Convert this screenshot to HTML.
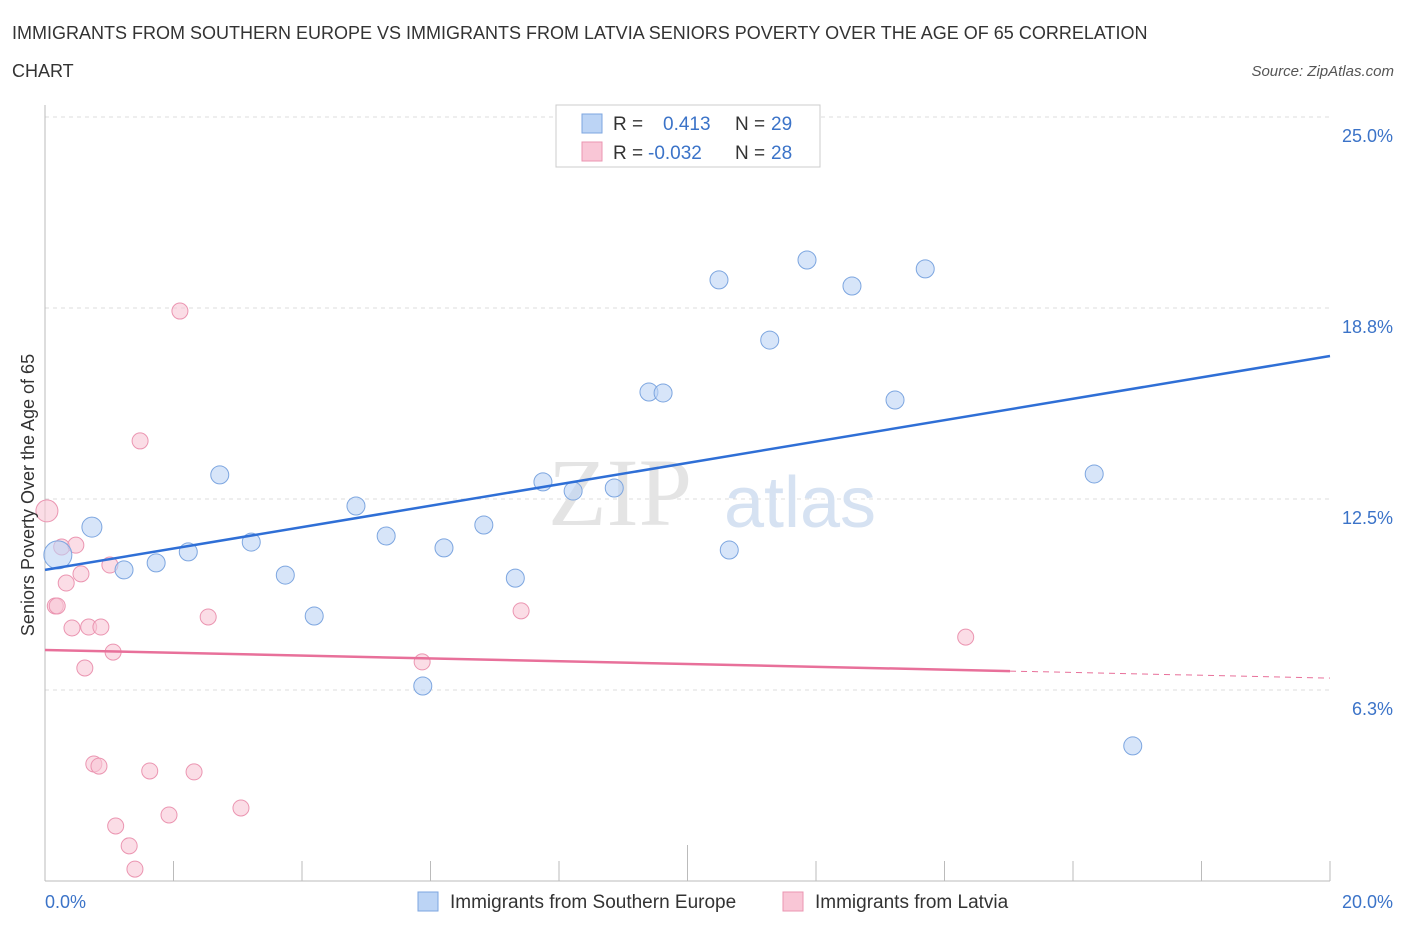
<!DOCTYPE html>
<html><head><meta charset="utf-8"><style>
body{margin:0;background:#fff;font-family:"Liberation Sans",sans-serif}
</style></head><body>
<svg width="1406" height="930" xmlns="http://www.w3.org/2000/svg" font-family="Liberation Sans, sans-serif">
<text x="12" y="39" font-size="18" fill="#333">IMMIGRANTS FROM SOUTHERN EUROPE VS IMMIGRANTS FROM LATVIA SENIORS POVERTY OVER THE AGE OF 65 CORRELATION</text>
<text x="12" y="77" font-size="18" fill="#333">CHART</text>
<text x="1394" y="76" font-size="15" fill="#555" font-style="italic" text-anchor="end">Source: ZipAtlas.com</text>
<g id="grid"></g>
<g id="ticks"></g>
<text x="620" y="525" font-size="96" fill="#e4e4e4" font-family="Liberation Serif, serif" text-anchor="middle">ZIP</text>
<text x="800" y="527" font-size="72" fill="#d6e2f2" text-anchor="middle">atlas</text>
<g id="marks"></g>
<text transform="translate(34,495) rotate(-90)" font-size="18" fill="#333" text-anchor="middle">Seniors Poverty Over the Age of 65</text>
<text x="45" y="908" font-size="18" fill="#3b73c8">0.0%</text>
<text x="1393" y="908" font-size="18" fill="#3b73c8" text-anchor="end">20.0%</text>
<g>
<rect x="556" y="105" width="264" height="62" fill="#fff" stroke="#ccc"/>
<rect x="582" y="114" width="20" height="19" fill="#bcd4f5" stroke="#7da6e0"/>
<rect x="582" y="142" width="20" height="19" fill="#f9c6d6" stroke="#eb95b1"/>
<text x="613" y="130" font-size="19" fill="#333">R =</text>
<text x="663" y="130" font-size="19" fill="#3b73c8">0.413</text>
<text x="735" y="130" font-size="19" fill="#333">N =</text>
<text x="771" y="130" font-size="19" fill="#3b73c8">29</text>
<text x="613" y="159" font-size="19" fill="#333">R =</text>
<text x="648" y="159" font-size="19" fill="#3b73c8">-0.032</text>
<text x="735" y="159" font-size="19" fill="#333">N =</text>
<text x="771" y="159" font-size="19" fill="#3b73c8">28</text>
</g>
<g>
<rect x="418" y="892" width="20" height="19" fill="#bcd4f5" stroke="#7da6e0"/>
<text x="450" y="908" font-size="19" fill="#333">Immigrants from Southern Europe</text>
<rect x="783" y="892" width="20" height="19" fill="#f9c6d6" stroke="#eb95b1"/>
<text x="815" y="908" font-size="19" fill="#333">Immigrants from Latvia</text>
</g>
</svg>
<script>
const yTicks=[6.25,12.5,18.75,25];
const yTickLabels=["6.3%","12.5%","18.8%","25.0%"];
const xTicks=[0,2,4,6,8,10,12,14,16,18,20];
const blueX=[0.20,0.73,1.23,1.73,2.23,2.72,3.21,3.74,4.19,4.84,5.31,5.88,6.21,6.83,7.32,7.75,8.22,8.86,9.40,9.62,10.49,10.65,11.28,11.86,12.56,13.23,13.70,16.33,16.93];
const blueY=[10.67,11.58,10.18,10.41,10.77,13.29,11.09,10.01,8.67,12.27,11.29,6.38,10.90,11.65,9.91,13.06,12.76,12.86,16.00,15.97,19.67,10.83,17.70,20.32,19.47,15.74,20.03,13.32,4.42];
const blueR=[14,10,9,9,9,9,9,9,9,9,9,9,9,9,9,9,9,9,9,9,9,9,9,9,9,9,9,9,9];
const pinkX=[0.03,0.16,0.19,0.26,0.33,0.48,0.42,0.56,0.62,0.68,0.87,1.01,1.06,0.76,0.84,1.10,1.31,1.40,1.48,1.63,1.93,2.10,2.32,2.54,3.05,5.87,7.41,14.33];
const pinkY=[12.11,9.00,9.00,10.93,9.75,10.99,8.28,10.05,6.97,8.31,8.31,10.34,7.49,3.83,3.76,1.80,1.15,0.39,14.40,3.60,2.16,18.65,3.57,8.64,2.39,7.17,8.84,7.98];
const blueTrend=[10.18,17.18];
const pinkTrend=[7.56,6.64];
const pinkSolidEnd=15.02;
const ns="http://www.w3.org/2000/svg";
const X=v=>45+v/20*1285, Y=v=>881-v*30.56;
function mk(t,a,p){const e=document.createElementNS(ns,t);for(const k in a)e.setAttribute(k,a[k]);p.appendChild(e);return e;}
const grid=document.getElementById('grid'),ticks=document.getElementById('ticks'),marks=document.getElementById('marks');
yTicks.forEach((t,i)=>{
 const l=mk('line',{x1:45,x2:1330,y1:Y(t),y2:Y(t),stroke:'#ddd','stroke-dasharray':'4,4'},grid);
 
 
 const tx=mk('text',{x:1393,y:Y(t)+25,'font-size':18,fill:'#3b73c8','text-anchor':'end'},grid);
 tx.textContent=yTickLabels[i];
 
 
});
const ax=mk('line',{x1:45,x2:1330,y1:881,y2:881,stroke:'#bbb'},ticks);


const ay=mk('line',{x1:45,x2:45,y1:105,y2:881,stroke:'#bbb'},ticks);


xTicks.forEach(t=>{
 const l=mk('line',{x1:X(t),x2:X(t),y1:t==10?845:861,y2:881,stroke:'#bbb'},ticks);
 
 
});
function dot(x,y,r,fill,stroke,name){
 const c=mk('circle',{cx:X(x),cy:Y(y),r:r,fill:fill,stroke:stroke,'stroke-width':1,'fill-opacity':0.6},marks);
 
 
}
pinkX.forEach((x,i)=>dot(x,pinkY[i],i==0?11:8,'#f9c6d6','#eb95b1','latvia-point'));
blueX.forEach((x,i)=>dot(x,blueY[i],blueR[i],'#bcd4f5','#7da6e0','southern-europe-point'));
const bl=mk('line',{x1:X(0),y1:Y(blueTrend[0]),x2:X(20),y2:Y(blueTrend[1]),stroke:'#2f6fd6','stroke-width':2.5},marks);


const pm=pinkTrend[0]+(pinkTrend[1]-pinkTrend[0])*pinkSolidEnd/20;
const pl=mk('line',{x1:X(0),y1:Y(pinkTrend[0]),x2:X(pinkSolidEnd),y2:Y(pm),stroke:'#e8709a','stroke-width':2.5},marks);


const pd=mk('line',{x1:X(pinkSolidEnd),y1:Y(pm),x2:X(20),y2:Y(pinkTrend[1]),stroke:'#e8709a','stroke-width':1,'stroke-dasharray':'6,5'},marks);


</script>
</body></html>
